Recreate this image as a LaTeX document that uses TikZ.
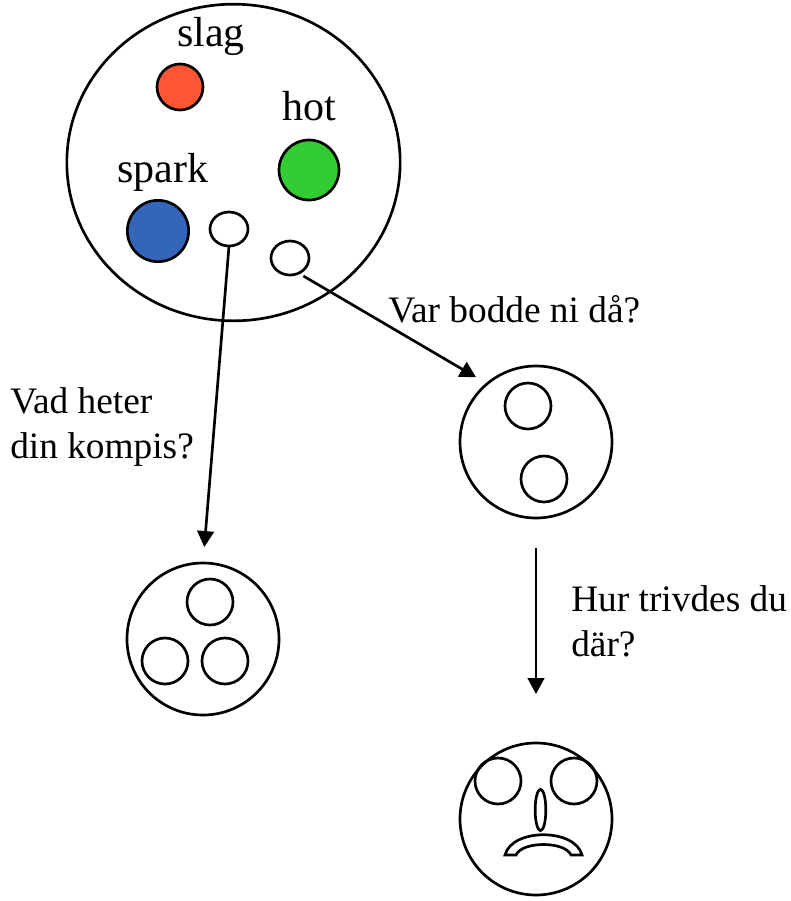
\documentclass[tikz,border=0pt]{standalone}
\usepackage{fontspec}
\setmainfont{Liberation Serif}
\usepackage{tikz}
\usetikzlibrary{shapes.geometric,arrows.meta}

\definecolor{slagred}{RGB}{255,85,51}
\definecolor{hotgreen}{RGB}{51,204,51}
\definecolor{sparkblue}{RGB}{51,102,187}

\tikzset{
	ring/.style={circle, draw=black, line width=2pt, inner sep=0pt, outer sep=0pt},
	bigring/.style={ring, minimum size=114pt},
	smallring/.style={ring, minimum size=34.5pt},
	hole/.style={ellipse, draw=black, line width=2pt, inner sep=0pt, outer sep=0pt, minimum width=28.5pt, minimum height=25.5pt},
	question/.style={-{Triangle[length=12pt,width=12.5pt]}, line width=2pt},
	bigword/.style={font=\fontsize{31.5}{36}\selectfont, inner sep=0pt},
	smallword/.style={font=\fontsize{28}{33.75}\selectfont, inner sep=0pt, align=left, anchor=west}
}

\begin{document}
\begin{tikzpicture}[x=.75pt, y=-.75pt]
			\useasboundingbox (0,0) rectangle (791,901);
			
			\node[ellipse, draw=black, line width=2pt, inner sep=0pt, outer sep=0pt, minimum width=250pt, minimum height=237.5pt] (memory) at (233.5,162.5){};
			\node[ring, fill=slagred, minimum size=34.5pt] (slagspot) at (180,87){};
			\node[ring, fill=hotgreen, minimum size=45pt] (hotspot) at (309,170){};
			\node[ring, fill=sparkblue, minimum size=46pt] (sparkspot) at (158,231){};
			\node[hole] (holeleft) at (229,229){};
			\node[hole] (holeright) at (290,258){};
			\node[bigword] (slagtext) at (211,36){slag};
			\node[bigword] (hottext) at (309,106){hot};
			\node[bigword] (sparktext) at (163,172){spark};
			
			\node[bigring] (ringright) at (536,442){};
			\node[smallring] (ringrighta) at (528,406){};
			\node[smallring] (ringrightb) at (544,479){};
			
			\node[bigring] (ringleft) at (203,639){};
			\node[smallring] (ringlefta) at (210,602){};
			\node[smallring] (ringleftb) at (165,661){};
			\node[smallring] (ringleftc) at (225,661){};
			
			\node[bigring] (face) at (536,819){};
			\node[smallring] (eyeleft) at (498,781){};
			\node[smallring] (eyeright) at (574,781){};
			\node[ellipse, draw=black, line width=2pt, inner sep=0pt, outer sep=0pt, minimum width=8pt, minimum height=31pt] (nose) at (540.5,810){};
			\draw[line width=2pt] (505,855)--(516,855) .. controls (522,841) and (565,841) .. (571,855)--(582,855) .. controls (575,828) and (512,828) .. (505,855)--cycle;
			
			\draw[question, shorten >=12pt] (holeleft.south)--(ringleft.north);
			\draw[question, shorten >=9.6pt] ([yshift=-4.5pt]holeright.south east)--(ringright.130);
			\draw[question, shorten <=22.5pt, shorten >=36.75pt] (ringright.south)--(face.north);
			
			\node[smallword] (varbodde) at (388,309.5){Var bodde ni då?};
			\node[smallword] (vadheter) at (10,427){Vad heter\\din kompis?};
			\node[smallword] (hurtrivdes) at (571,621){Hur trivdes du\\där?};
		\end{tikzpicture}
\end{document}
